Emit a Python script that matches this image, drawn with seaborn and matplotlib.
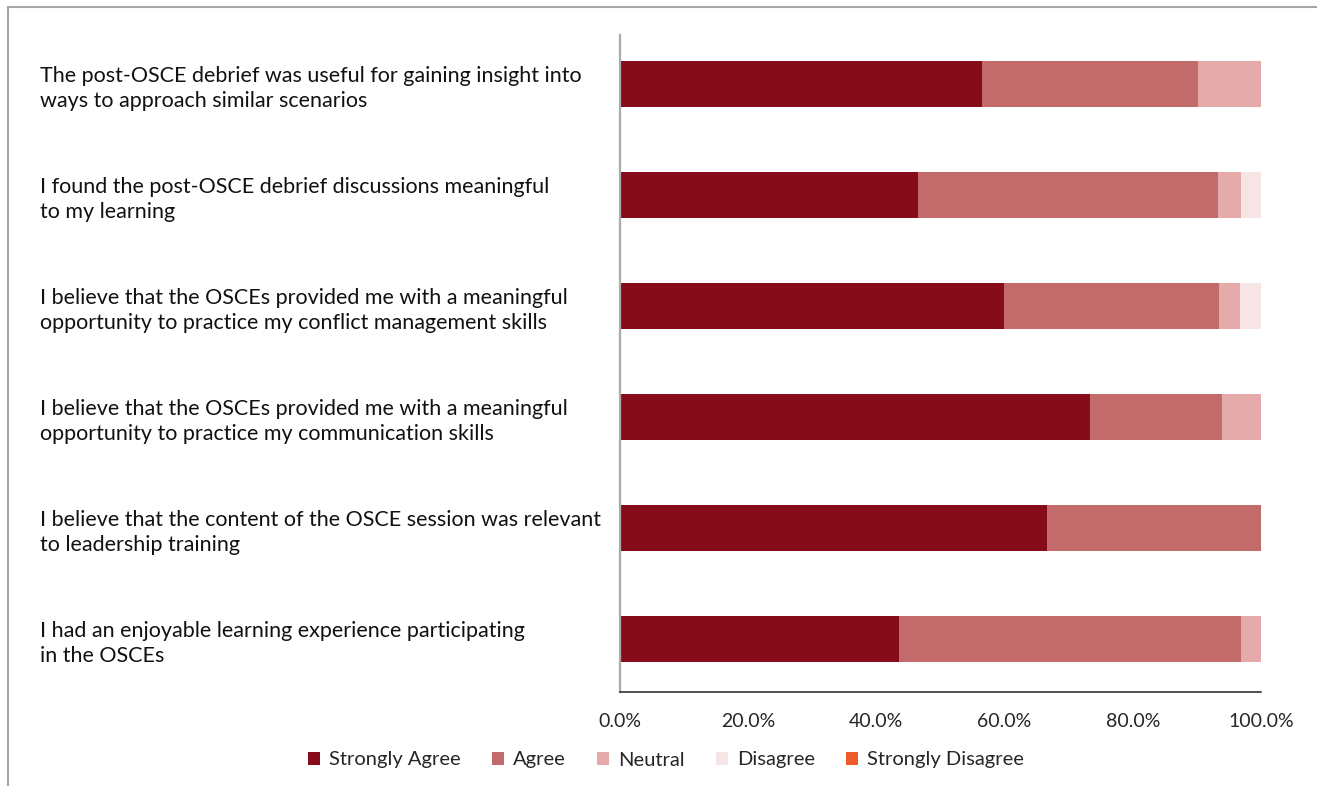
import numpy as np
import pandas as pd
import matplotlib
matplotlib.use("Agg")
import matplotlib.pyplot as plt
from matplotlib.patches import Patch, Rectangle
import seaborn as sns

statements = [
    "The post-OSCE debrief was useful for gaining insight into\nways to approach similar scenarios",
    "I found the post-OSCE debrief discussions meaningful\nto my learning",
    "I believe that the OSCEs provided me with a meaningful\nopportunity to practice my conflict management skills",
    "I believe that the OSCEs provided me with a meaningful\nopportunity to practice my communication skills",
    "I believe that the content of the OSCE session was relevant\nto leadership training",
    "I had an enjoyable learning experience participating\nin the OSCEs",
]
levels = ["Strongly Agree", "Agree", "Neutral", "Disagree", "Strongly Disagree"]
strongly_agree = [56.5, 46.5, 59.9, 73.3, 66.6, 43.5]
agree = [33.7, 46.8, 33.5, 20.6, 33.4, 53.4]
neutral = [9.8, 3.6, 3.3, 6.1, 0.0, 3.1]
disagree = [0.0, 3.1, 3.3, 0.0, 0.0, 0.0]
strongly_disagree = [0.0, 0.0, 0.0, 0.0, 0.0, 0.0]
colors = ["#860C1B", "#C26B6A", "#E5AAAA", "#F6E5E4", "#EE5A2A"]
xticks = [0, 20, 40, 60, 80, 100]
xticklabels = ["0.0%", "20.0%", "40.0%", "60.0%", "80.0%", "100.0%"]

sns.set_theme(style="white")
plt.rcParams["font.family"] = ["Lato", "DejaVu Sans"]

series = [strongly_agree, agree, neutral, disagree, strongly_disagree]
df = pd.DataFrame({"statement": statements})
cum = np.zeros(len(statements))
cum_cols = []
for name, vals in zip(levels, series):
    cum = cum + np.array(vals)
    df[name] = cum.copy()
    cum_cols.append(name)

fig = plt.figure(figsize=(13.17, 7.86), dpi=100)
ax = fig.add_axes([620 / 1317, 1 - 692 / 786, (1261 - 620) / 1317, (692 - 35) / 786])

# Draw cumulative bars from the outermost to innermost
for name, col in reversed(list(zip(cum_cols, colors))):
    sns.barplot(data=df, y="statement", x=name, color=col, orient="h",
                width=0.41, ax=ax, saturation=1, linewidth=0)

ax.set_xlim(0, 100)
ax.set_ylim(5.477, -0.441)
ax.set_xlabel("")
ax.set_ylabel("")
ax.set_xticks(xticks)
ax.set_xticklabels(xticklabels, fontsize=14)
ax.tick_params(axis="x", direction="in", length=4, width=1, color="black", pad=15)

for sp in ["top", "right"]:
    ax.spines[sp].set_visible(False)
ax.spines["left"].set_color("#ABABAB")
ax.spines["left"].set_linewidth(1.6)
ax.spines["bottom"].set_color("#222222")
ax.spines["bottom"].set_linewidth(1.1)

ax.tick_params(axis="y", length=0, pad=(620 - 40) * 0.72)
for lbl in ax.get_yticklabels():
    lbl.set_horizontalalignment("left")
    lbl.set_fontsize(15.5)
    lbl.set_linespacing(1.3)
    lbl.set_color("#111111")

handles = [Patch(facecolor=c, edgecolor="none", label=l) for l, c in zip(levels, colors)]
fig.legend(handles=handles, loc="center", bbox_to_anchor=(666 / 1317, 1 - 760 / 786),
           ncol=5, frameon=False, fontsize=14.5, handlelength=0.6, handleheight=0.6,
           handletextpad=0.45, columnspacing=1.55)

# outer frame
fig.patches.append(Rectangle((8 / 1317, -0.1), 1.2, 1 - 7 / 786 + 0.1,
                             transform=fig.transFigure, fill=False,
                             edgecolor="#A6A6A6", linewidth=1.5))

fig.savefig("out.png", dpi=100)
